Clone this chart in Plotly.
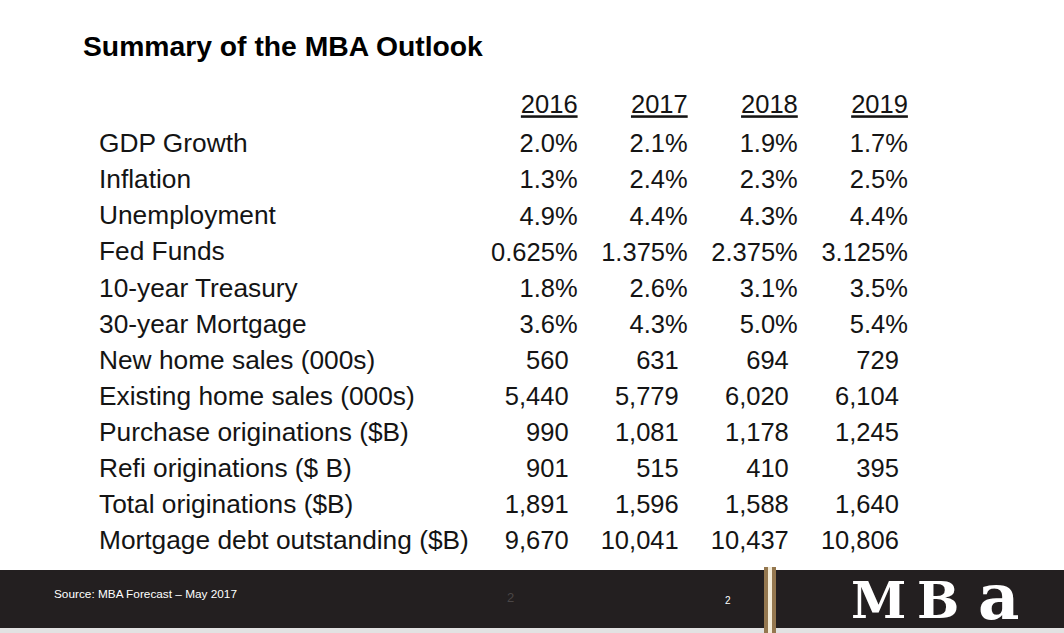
import plotly.graph_objects as go

# ---- data ----
years = [2016, 2017, 2018, 2019]
year_labels = ["2016", "2017", "2018", "2019"]
row_labels = [
    "GDP Growth",
    "Inflation",
    "Unemployment",
    "Fed Funds",
    "10-year Treasury",
    "30-year Mortgage",
    "New home sales (000s)",
    "Existing home sales (000s)",
    "Purchase originations ($B)",
    "Refi originations ($ B)",
    "Total originations ($B)",
    "Mortgage debt outstanding ($B)",
]
gdp_growth = ["2.0%", "2.1%", "1.9%", "1.7%"]
inflation = ["1.3%", "2.4%", "2.3%", "2.5%"]
unemployment = ["4.9%", "4.4%", "4.3%", "4.4%"]
fed_funds = ["0.625%", "1.375%", "2.375%", "3.125%"]
treasury_10y = ["1.8%", "2.6%", "3.1%", "3.5%"]
mortgage_30y = ["3.6%", "4.3%", "5.0%", "5.4%"]
new_home_sales = ["560", "631", "694", "729"]
existing_home_sales = ["5,440", "5,779", "6,020", "6,104"]
purchase_orig = ["990", "1,081", "1,178", "1,245"]
refi_orig = ["901", "515", "410", "395"]
total_orig = ["1,891", "1,596", "1,588", "1,640"]
mortgage_debt = ["9,670", "10,041", "10,437", "10,806"]

pct_rows = [gdp_growth, inflation, unemployment, fed_funds, treasury_10y, mortgage_30y]
count_rows = [new_home_sales, existing_home_sales, purchase_orig, refi_orig,
              total_orig, mortgage_debt]

title_text = "Summary of the MBA Outlook"
source_text = "Source: MBA Forecast \u2013 May 2017"
page_number = "2"

HDR = "hdr"
W, H = 1064, 633
FONT = "Liberation Sans, Arial, sans-serif"
TXT = "#141414"

# column geometry (pixels)
col_px_per_year = 110.1
first_col_right = 577.6
r0 = years[0] - first_col_right / col_px_per_year
r1 = r0 + W / col_px_per_year
int_shift = 9 / col_px_per_year

# row geometry: header is category index 0, first data row index 1
row_px = 36.09
first_row_y = 143.0
r_top = 1 - first_row_y / row_px
r_bottom = r_top + H / row_px
val_shift = 3 / row_px  # values sit a little lower than text baseline of labels

fig = go.Figure()

# header row
fig.add_trace(go.Scatter(
    x=years, y=[HDR] * len(years),
    text=["<u>" + y + "</u>" for y in year_labels],
    mode="text", textposition="middle left",
    textfont=dict(family=FONT, size=25.5, color=TXT),
    hoverinfo="skip", showlegend=False,
))

# percentage rows
px, py, pt = [], [], []
for lbl, vals in zip(row_labels[:len(pct_rows)], pct_rows):
    for yr, v in zip(years, vals):
        px.append(yr); py.append(lbl); pt.append(v)
fig.add_trace(go.Scatter(
    x=px, y=py, text=pt, mode="text", textposition="middle left",
    textfont=dict(family=FONT, size=25.5, color=TXT),
    hoverinfo="skip", showlegend=False, yaxis="y2",
))

# count rows (decimal-aligned, slightly left)
cx, cy, ct = [], [], []
for lbl, vals in zip(row_labels[len(pct_rows):], count_rows):
    for yr, v in zip(years, vals):
        cx.append(yr); cy.append(lbl); ct.append(v)
fig.add_trace(go.Scatter(
    x=cx, y=cy, text=ct, mode="text", textposition="middle left",
    textfont=dict(family=FONT, size=25.5, color=TXT),
    hoverinfo="skip", showlegend=False, xaxis="x2", yaxis="y2",
))

hidden = dict(showgrid=False, zeroline=False, showticklabels=False,
              showline=False, ticks="", fixedrange=True)

fig.update_layout(
    width=W, height=H,
    margin=dict(l=0, r=0, t=0, b=0),
    paper_bgcolor="white", plot_bgcolor="white",
    xaxis=dict(range=[r0, r1], domain=[0, 1], **hidden),
    xaxis2=dict(range=[r0 + int_shift, r1 + int_shift], overlaying="x",
                anchor="y", **hidden),
    yaxis=dict(
        type="category", categoryorder="array",
        categoryarray=[HDR] + row_labels,
        range=[r_bottom, r_top],
        tickvals=row_labels, ticktext=row_labels,
        side="right", anchor="free", position=98 / W,
        showgrid=False, zeroline=False, showline=False, ticks="",
        tickfont=dict(family=FONT, size=26.3, color=TXT),
        fixedrange=True,
    ),
    yaxis2=dict(
        type="category", categoryorder="array",
        categoryarray=[HDR] + row_labels,
        range=[r_bottom - val_shift, r_top - val_shift],
        overlaying="y", anchor="x", **hidden,
    ),
    showlegend=False,
)

def py_(p):
    return 1 - p / H

shapes = [
    dict(type="rect", xref="paper", yref="paper", x0=0, x1=1,
         y0=py_(628), y1=py_(570), fillcolor="#231f20", line_width=0, layer="below"),
    dict(type="rect", xref="paper", yref="paper", x0=0, x1=1,
         y0=0, y1=py_(628), fillcolor="#e2e2e2", line_width=0, layer="below"),
    dict(type="rect", xref="paper", yref="paper", x0=764 / W, x1=768 / W,
         y0=py_(633), y1=py_(567), fillcolor="#94774f", line_width=0),
    dict(type="rect", xref="paper", yref="paper", x0=768 / W, x1=772 / W,
         y0=py_(633), y1=py_(567), fillcolor="#f4ecd9", line_width=0),
    dict(type="rect", xref="paper", yref="paper", x0=772 / W, x1=776 / W,
         y0=py_(633), y1=py_(567), fillcolor="#94774f", line_width=0),
]
fig.update_layout(shapes=shapes)

ann = [
    dict(text="<b>" + title_text + "</b>", x=81 / W, y=py_(46), xanchor="left",
         yanchor="middle", font=dict(family=FONT, size=28.3, color="#000000")),
    dict(text=source_text, x=52 / W, y=py_(594), xanchor="left", yanchor="middle",
         font=dict(family=FONT, size=11.8, color="#ffffff")),
    dict(text=page_number, x=510 / W, y=py_(597), xanchor="center", yanchor="middle",
         font=dict(family=FONT, size=13, color="#4a4646")),
    dict(text=page_number, x=728 / W, y=py_(600), xanchor="center", yanchor="middle",
         font=dict(family=FONT, size=10, color="#ffffff")),
    dict(text="<b>M</b>", x=878 / W, y=py_(600), xanchor="center", yanchor="middle",
         font=dict(family="DejaVu Serif, serif", size=50, color="#ffffff")),
    dict(text="<b>B</b>", x=938 / W, y=py_(600), xanchor="center", yanchor="middle",
         font=dict(family="DejaVu Serif, serif", size=50, color="#ffffff")),
    dict(text="<b>a</b>", x=998 / W, y=py_(596), xanchor="center", yanchor="middle",
         font=dict(family="DejaVu Serif, serif", size=64, color="#ffffff")),
]
for a in ann:
    a.update(xref="paper", yref="paper", showarrow=False)
fig.update_layout(annotations=ann)

fig.write_html(
    "out.html",
    config={"displayModeBar": False},
    post_script="document.body.style.margin='0';document.body.style.overflow='hidden';",
)
